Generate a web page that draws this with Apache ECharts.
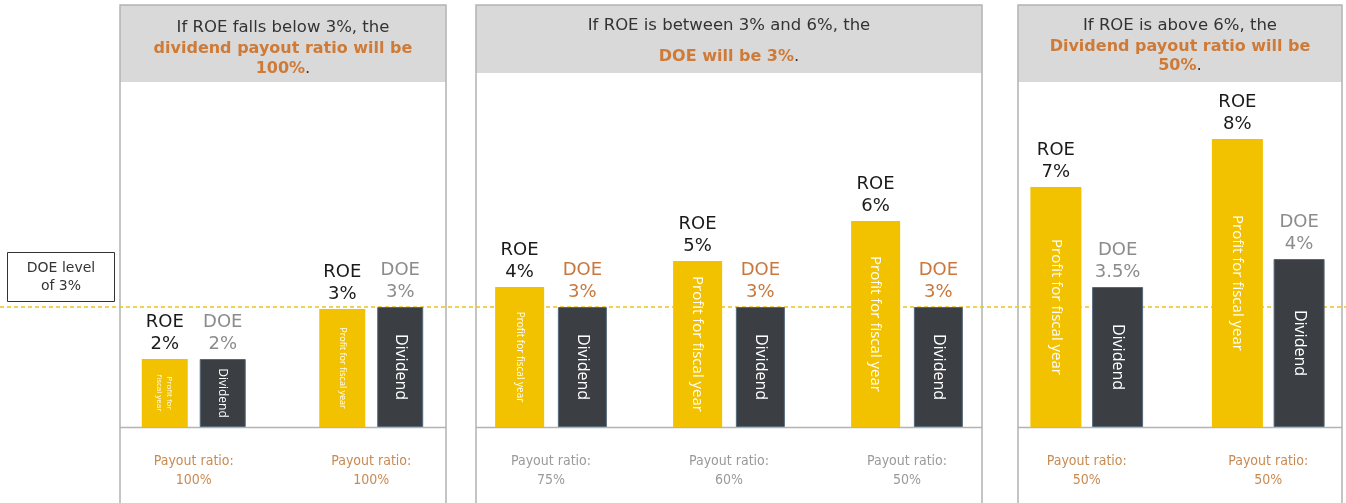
<!DOCTYPE html>
<html>
<head>
<meta charset="utf-8">
<script src="https://cdn.jsdelivr.net/npm/echarts@6/dist/echarts.min.js"></script>
<style>
html, body { margin: 0; padding: 0; background: #fff; }
#chart { width: 1346px; height: 503px; }
</style>
</head>
<body>
<div id="chart"></div>
<script>
// cases, one per bar pair
var categories = ['case1', 'case2', 'case3', 'case4', 'case5', 'case6', 'case7'];
// which header panel each case sits in
var groupOf = [0, 0, 1, 1, 1, 2, 2];

// labels shown above the bars
var roeLabel = ['2%', '3%', '4%', '5%', '6%', '7%', '8%'];
var doeLabel = ['2%', '3%', '3%', '3%', '3%', '3.5%', '4%'];
// bar heights as drawn (schematic, in % units)
var roeHeight = [1.7, 2.95, 3.5, 4.15, 5.15, 6.0, 7.2];
var doeHeight = [1.7, 3, 3, 3, 3, 3.5, 4.2];
// payout ratio under each pair
var payoutRatio = ['100%', '100%', '75%', '60%', '50%', '50%', '50%'];
// DOE reference level
var doeLevel = 3;

var profitText = ['Profit for\nfiscal year', 'Profit for fiscal year', 'Profit for fiscal year',
    'Profit for fiscal year', 'Profit for fiscal year', 'Profit for fiscal year', 'Profit for fiscal year'];
var profitFont = [8, 9, 10, 15, 15, 15, 15];
var dividendFont = [12, 16, 16, 16, 16, 16, 16];

var YELLOW = '#f2c200';
var DARK = '#3b3e42';
var ORANGE = '#cf7a36';
var labelFont = 'DejaVu Sans';
var innerFont = 'Open Sans';
var headFont = 'DejaVu Sans';
var narrowFont = '"DejaVu Sans Condensed", "Liberation Sans", sans-serif';

var chart = echarts.init(document.getElementById('chart'));

// panel frames: [left, right, headerBottom]
var panels = [[120, 446, 82], [476, 982, 73], [1018, 1342, 82]];
// plot area for each panel's bars
var panelGrids = [
    { left: 105, width: 355, barWidth: 46, barGap: '26%' },
    { left: 462, width: 534, barWidth: 49, barGap: '28%' },
    { left: 996, width: 363, barWidth: 51, barGap: '21%' }
];

var graphics = [];
panels.forEach(function (p) {
    graphics.push({
        type: 'rect', z: 0,
        shape: { x: p[0], y: 5, width: p[1] - p[0], height: p[2] - 5 },
        style: { fill: '#d9d9d9', stroke: null }
    });
    graphics.push({
        type: 'polyline', z: 1,
        shape: { points: [[p[0], 503], [p[0], 5], [p[1], 5], [p[1], 503]] },
        style: { stroke: '#b3b3b3', lineWidth: 1.5, fill: null }
    });
    graphics.push({
        type: 'line', z: 1,
        shape: { x1: p[0], y1: 427.5, x2: p[1], y2: 427.5 },
        style: { stroke: '#b3b3b3', lineWidth: 1.5 }
    });
});

function headText(x, y, text) {
    return {
        type: 'text', z: 5, x: x, y: y,
        style: {
            text: text, align: 'center', verticalAlign: 'middle',
            rich: {
                n: { fontFamily: headFont, fontSize: 16.5, fill: '#333' },
                o: { fontFamily: headFont, fontSize: 16, fontWeight: 'bold', fill: ORANGE }
            }
        }
    };
}
graphics.push(headText(283, 28, '{n|If ROE falls below 3%, the}'));
graphics.push(headText(283, 49, '{o|dividend payout ratio will be}'));
graphics.push(headText(283, 69, '{o|100%}{n|.}'));
graphics.push(headText(729, 26, '{n|If ROE is between 3% and 6%, the}'));
graphics.push(headText(729, 57, '{o|DOE will be 3%}{n|.}'));
graphics.push(headText(1180, 26, '{n|If ROE is above 6%, the}'));
graphics.push(headText(1180, 47, '{o|Dividend payout ratio will be}'));
graphics.push(headText(1180, 66, '{o|50%}{n|.}'));

// DOE level box
graphics.push({
    type: 'rect', z: 5,
    shape: { x: 7.5, y: 252.5, width: 107, height: 49 },
    style: { fill: '#fff', stroke: '#333', lineWidth: 1 }
});
graphics.push({
    type: 'text', z: 6, x: 61, y: 277,
    style: {
        text: 'DOE level\nof 3%', align: 'center', verticalAlign: 'middle',
        fontFamily: headFont, fontSize: 14, lineHeight: 18, fill: '#333'
    }
});

var grids = [], xAxes = [], yAxes = [], series = [];

panelGrids.forEach(function (pg, g) {
    var idx = [];
    groupOf.forEach(function (v, i) { if (v === g) idx.push(i); });
    var cats = idx.map(function (i) { return categories[i]; });
    var k = g === 1 ? 'g' : 'o';

    grids.push({ left: pg.left, width: pg.width, top: 27, height: 400, outerBoundsMode: 'none' });
    xAxes.push({
        type: 'category', gridIndex: g, data: cats,
        axisLine: { show: false }, axisTick: { show: false },
        axisLabel: {
            margin: 25, interval: 0,
            formatter: function (value, j) {
                return '{' + k + '|Payout ratio:}\n{' + k + '|' + payoutRatio[idx[j]] + '}';
            },
            rich: {
                o: { fontFamily: narrowFont, fontSize: 14, color: '#c98a52', lineHeight: 19 },
                g: { fontFamily: narrowFont, fontSize: 14, color: '#9a9a9a', lineHeight: 19 }
            }
        }
    });
    xAxes.push({ type: 'category', gridIndex: g, data: cats, show: false });
    yAxes.push({ type: 'value', gridIndex: g, min: 0, max: 10, show: false });

    var xMain = g * 2, xOver = g * 2 + 1;
    var doeKey = 'g' + g;

    series.push({
        name: 'Profit for fiscal year', type: 'bar', xAxisIndex: xMain, yAxisIndex: g, z: 3,
        barWidth: pg.barWidth, barGap: pg.barGap,
        itemStyle: { color: YELLOW },
        data: idx.map(function (i) { return roeHeight[i]; }),
        label: {
            show: true, position: 'top', distance: 4,
            formatter: function (p) {
                return '{a|ROE}\n{a|' + roeLabel[idx[p.dataIndex]] + '}';
            },
            rich: { a: { fontFamily: labelFont, fontSize: 18, color: '#1a1a1a', lineHeight: 22 } }
        }
    });
    series.push({
        name: 'Dividend', type: 'bar', xAxisIndex: xMain, yAxisIndex: g, z: 3,
        barWidth: pg.barWidth, barGap: pg.barGap,
        itemStyle: { color: DARK, borderColor: '#56697a', borderWidth: 1 },
        data: idx.map(function (i) { return doeHeight[i]; }),
        label: {
            show: true, position: 'top', distance: 4,
            formatter: function (p) {
                return '{' + doeKey + '|DOE}\n{' + doeKey + '|' + doeLabel[idx[p.dataIndex]] + '}';
            },
            rich: {
                g0: { fontFamily: labelFont, fontSize: 18, color: '#8c8c8c', lineHeight: 22 },
                g1: { fontFamily: labelFont, fontSize: 18, color: '#c9773c', lineHeight: 22 },
                g2: { fontFamily: labelFont, fontSize: 18, color: '#8c8c8c', lineHeight: 22 }
            }
        }
    });
    // inner captions
    series.push({
        type: 'bar', xAxisIndex: xOver, yAxisIndex: g, z: 4, silent: true,
        barWidth: pg.barWidth, barGap: pg.barGap,
        itemStyle: { color: 'rgba(0,0,0,0)' },
        data: idx.map(function (i) {
            return { value: roeHeight[i], label: { fontSize: profitFont[i], lineHeight: profitFont[i] + 2 } };
        }),
        label: {
            show: true, position: 'inside', rotate: -90, color: '#fff', fontFamily: innerFont,
            formatter: function (p) { return profitText[idx[p.dataIndex]]; }
        }
    });
    series.push({
        type: 'bar', xAxisIndex: xOver, yAxisIndex: g, z: 4, silent: true,
        barWidth: pg.barWidth, barGap: pg.barGap,
        itemStyle: { color: 'rgba(0,0,0,0)' },
        data: idx.map(function (i) {
            return { value: doeHeight[i], label: { fontSize: dividendFont[i] } };
        }),
        label: {
            show: true, position: 'inside', rotate: -90, color: '#fff', fontFamily: innerFont,
            formatter: 'Dividend'
        }
    });
});

// full-width grid for the DOE 3% reference line
grids.push({ left: 0, right: 0, top: 27, height: 400, outerBoundsMode: 'none' });
xAxes.push({ type: 'value', gridIndex: 3, min: 0, max: 1, show: false });
yAxes.push({ type: 'value', gridIndex: 3, min: 0, max: 10, show: false });
series.push({
    type: 'line', xAxisIndex: 6, yAxisIndex: 3, z: 1,
    data: [[0, doeLevel], [1, doeLevel]],
    symbol: 'none', silent: true,
    lineStyle: { color: '#efc21c', width: 1.5, type: [4, 3] }
});

chart.setOption({
    backgroundColor: '#fff',
    animation: false,
    graphic: graphics,
    grid: grids,
    xAxis: xAxes,
    yAxis: yAxes,
    series: series
});
</script>
</body>
</html>
